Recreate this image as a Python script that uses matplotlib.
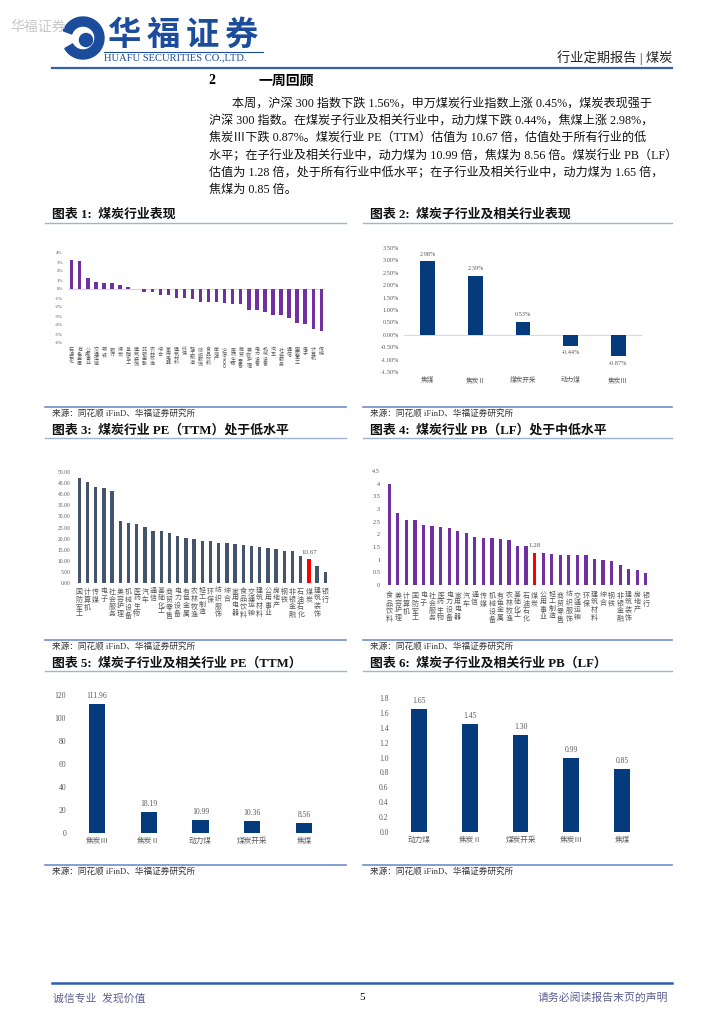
import matplotlib
matplotlib.use("Agg")
import matplotlib.pyplot as plt
import numpy as np
from matplotlib.patches import Wedge, Circle

plt.rcParams['font.family'] = ['Liberation Serif', 'Noto Sans CJK SC', 'DejaVu Sans']

# ---- data ----
names1 = ["石油石化", "有色金属", "公用事业", "交通运输", "钢铁", "银行", "煤炭", "基础化工",
          "建筑装饰", "非银金融", "农林牧渔", "综合", "家用电器", "建筑材料", "环保", "轻工制造",
          "纺织服饰", "食品饮料", "房地产", "沪深300", "医药生物", "商贸零售", "美容护理", "电力设备",
          "机械设备", "汽车", "社会服务", "通信", "国防军工", "电子", "计算机", "传媒"]
chg1 = [3.26, 3.11, 1.26, 0.81, 0.63, 0.63, 0.45, 0.26, 0.02, -0.37, -0.37, -0.70, -0.70, -1.04,
        -1.04, -1.07, -1.48, -1.48, -1.48, -1.56, -1.63, -1.70, -2.30, -2.30, -2.56, -2.85, -2.85,
        -3.26, -3.78, -3.85, -4.48, -4.63]

names2 = ["焦煤", "焦炭Ⅱ", "煤炭开采", "动力煤", "焦炭Ⅲ"]
chg2 = [2.98, 2.39, 0.53, -0.44, -0.87]

names3 = ["国防军工", "计算机", "传媒", "电子", "社会服务", "美容护理", "机械设备", "医药生物",
          "汽车", "通信", "基础化工", "商贸零售", "电力设备", "有色金属", "农林牧渔", "轻工制造",
          "环保", "纺织服饰", "综合", "家用电器", "食品饮料", "交通运输", "建筑材料", "公用事业",
          "房地产", "钢铁", "非银金融", "石油石化", "煤炭", "建筑装饰", "银行"]
pe3 = [47.1, 45.7, 43.3, 43.0, 41.4, 27.9, 27.1, 26.5, 25.2, 23.5, 23.2, 22.3, 21.1, 20.2, 19.6,
       18.9, 18.9, 18.1, 18.1, 17.4, 16.9, 16.5, 16.0, 15.6, 15.3, 14.5, 14.2, 12.0, 10.67, 7.8, 5.1]

names4 = ["食品饮料", "美容护理", "计算机", "国防军工", "电子", "社会服务", "医药生物", "电力设备",
          "家用电器", "汽车", "通信", "传媒", "机械设备", "有色金属", "农林牧渔", "基础化工",
          "石油石化", "煤炭", "公用事业", "轻工制造", "商贸零售", "纺织服饰", "交通运输", "环保",
          "建筑材料", "综合", "钢铁", "非银金融", "建筑装饰", "房地产", "银行"]
pb4 = [3.97, 2.84, 2.57, 2.57, 2.37, 2.33, 2.30, 2.25, 2.12, 2.07, 1.90, 1.86, 1.86, 1.82, 1.76,
       1.55, 1.55, 1.28, 1.27, 1.23, 1.20, 1.19, 1.19, 1.18, 1.03, 0.97, 0.95, 0.80, 0.65, 0.58, 0.46]

names5 = ["焦炭Ⅲ", "焦炭Ⅱ", "动力煤", "煤炭开采", "焦煤"]
pe5 = [111.96, 18.19, 10.99, 10.36, 8.56]

names6 = ["动力煤", "焦炭Ⅱ", "煤炭开采", "焦炭Ⅲ", "焦煤"]
pb6 = [1.65, 1.45, 1.30, 0.99, 0.85]

para = [
    "本周，沪深 300 指数下跌 1.56%，申万煤炭行业指数上涨 0.45%，煤炭表现强于",
    "沪深 300 指数。在煤炭子行业及相关行业中，动力煤下跌 0.44%，焦煤上涨 2.98%，",
    "焦炭Ⅲ下跌 0.87%。煤炭行业 PE（TTM）估值为 10.67 倍，估值处于所有行业的低",
    "水平；在子行业及相关行业中，动力煤为 10.99 倍，焦煤为 8.56 倍。煤炭行业 PB（LF）",
    "估值为 1.28 倍，处于所有行业中低水平；在子行业及相关行业中，动力煤为 1.65 倍，",
    "焦煤为 0.85 倍。",
]
titles = ["图表 1:  煤炭行业表现", "图表 2:  煤炭子行业及相关行业表现",
          "图表 3:  煤炭行业 PE（TTM）处于低水平", "图表 4:  煤炭行业 PB（LF）处于中低水平",
          "图表 5:  煤炭子行业及相关行业 PE（TTM）", "图表 6:  煤炭子行业及相关行业 PB（LF）"]
source = "来源：同花顺 iFinD、华福证券研究所"

W, H = 724, 1024
PURPLE = '#7030A0'
NAVY = '#053A7C'
SLATE = '#44546A'
GRID = '#D9D9D9'
TXT = '#595959'

fig = plt.figure(figsize=(W / 100, H / 100), dpi=100)
page = fig.add_axes([0, 0, 1, 1])
page.set_xlim(0, W)
page.set_ylim(H, 0)
page.axis('off')


def box(x0, y0, x1, y1):
    return [x0 / W, 1 - y1 / H, (x1 - x0) / W, (y1 - y0) / H]


def vert(s):
    return "\n".join(list(s.replace("300", "３００")))


def clean(ax):
    for sp in ax.spines.values():
        sp.set_visible(False)
    ax.tick_params(length=0, colors=TXT)
    ax.set_facecolor('none')


# ---- header ----
page.text(10, 27, "华福证券", fontsize=10, color='#C8C8C8', va='center', ha='left')
page.add_patch(Wedge((83, 38), 21, 200, 150, width=9, color='#1C4C9C'))
page.add_patch(Circle((86, 40), 6.5, color='#1C4C9C'))
for i, ch in enumerate("华福证券"):
    page.text(124 + i * 39, 36, ch, fontsize=24, fontweight='bold', color='#1C4C9C',
              ha='center', va='center')
page.plot([104, 263], [52, 52], color='#1C4C9C', lw=0.8)
page.text(104, 58, "HUAFU SECURITIES CO.,LTD.", fontsize=7.6, color='#1C4C9C', va='center', ha='left')
page.text(672, 58, "行业定期报告 | 煤炭", fontsize=9.5, ha='right', va='center', color='#222222')
page.plot([52, 672], [68, 68], color='#3562B0', lw=1.6)

page.text(208, 81, "2", fontsize=10, fontweight='bold', va='center')
page.text(258, 81, "一周回顾", fontsize=10, fontweight='bold', va='center')
for i, line in enumerate(para):
    page.text(232 if i == 0 else 209, 105 + i * 17, line, fontsize=8.7, va='center', color='#111111')

# ---- panel frames ----
rows = [(215, 407), (430, 640), (663, 865)]
cols = [(45, 346), (363, 672)]
k = 0
for ty, sy in rows:
    for cx0, cx1 in cols:
        page.text(cx0 + 7, ty, titles[k], fontsize=9.3, fontweight='bold', va='center', color='#111111')
        page.plot([cx0, cx1], [ty + 8, ty + 8], color='#9DB3D9', lw=1.0)
        page.plot([cx0, cx1], [sy, sy], color='#6F8FC8', lw=1.2)
        page.text(cx0 + 7, sy + 7, source, fontsize=6.2, va='center', color='#333333')
        k += 1

# ---- footer ----
page.plot([52, 672], [983, 983], color='#2F5DB6', lw=1.8)
page.text(53, 998, "诚信专业  发现价值", fontsize=7.8, color='#5A5F8E', va='center')
page.text(362, 998, "5", fontsize=8, ha='center', va='center')
page.text(668, 998, "请务必阅读报告末页的声明", fontsize=7.8, color='#5A5F8E', va='center', ha='right')

# ---- chart 1 ----
ax1 = fig.add_axes(box(67.7, 253, 324.5, 343))
x1 = np.arange(len(names1))
ax1.bar(x1, chg1, width=0.42, color=PURPLE)
ax1.axhline(0, color=GRID, lw=0.8, zorder=0)
ax1.set_xlim(-0.5, 31.4)
ax1.set_ylim(-6, 4)
ax1.set_yticks(np.arange(-6, 5))
ax1.set_yticklabels([f"{v}%" for v in range(-6, 5)], fontsize=3.5)
ax1.set_xticks(x1)
ax1.set_xticklabels([vert(n) for n in names1], fontsize=3.6, linespacing=1.05)
clean(ax1)
ax1.tick_params(axis='x', pad=3.5)

# ---- chart 2 ----
ax2 = fig.add_axes(box(404, 248, 642, 372))
x2 = np.arange(len(names2))
b2 = ax2.bar(x2, chg2, width=0.31, color=NAVY)
ax2.bar_label(b2, labels=[f"{v:.2f}%" for v in chg2], fontsize=4.5, padding=3, color=TXT)
ax2.axhline(0, color=GRID, lw=0.8, zorder=0)
ax2.set_xlim(-0.5, 4.5)
ax2.set_ylim(-1.5, 3.5)
yt2 = np.arange(-1.5, 3.51, 0.5)
ax2.set_yticks(yt2)
ax2.set_yticklabels([f"{v:.2f}%" for v in yt2], fontsize=4.5)
ax2.set_xticks(x2)
ax2.set_xticklabels(names2, fontsize=4.8)
clean(ax2)
ax2.tick_params(axis='x', pad=3)

# ---- chart 3 ----
ax3 = fig.add_axes(box(75.2, 472, 336, 583))
x3 = np.arange(len(names3))
c3 = ['#FF0000' if n == "煤炭" else SLATE for n in names3]
b3 = ax3.bar(x3, pe3, width=0.4, color=c3)
ax3.bar_label(b3, labels=[f"{v:.2f}" if n == "煤炭" else "" for n, v in zip(names3, pe3)],
              fontsize=5, padding=3, color=TXT)
ax3.axhline(0, color=GRID, lw=0.8, zorder=0)
ax3.set_xlim(-0.5, 31.3)
ax3.set_ylim(0, 50)
yt3 = np.arange(0, 51, 5)
ax3.set_yticks(yt3)
ax3.set_yticklabels([f"{v:.2f}" for v in yt3], fontsize=4)
ax3.set_xticks(x3)
ax3.set_xticklabels([vert(n) for n in names3], fontsize=5, linespacing=1.15)
clean(ax3)
ax3.tick_params(axis='x', pad=3.5)

# ---- chart 4 ----
ax4 = fig.add_axes(box(385, 471, 653.5, 585))
x4 = np.arange(len(names4))
c4 = ['#FF0000' if n == "煤炭" else PURPLE for n in names4]
b4 = ax4.bar(x4, pb4, width=0.38, color=c4)
ax4.bar_label(b4, labels=[f"{v:.2f}" if n == "煤炭" else "" for n, v in zip(names4, pb4)],
              fontsize=5, padding=3, color=TXT)
ax4.axhline(0, color=GRID, lw=0.8, zorder=0)
ax4.set_xlim(-0.5, 30.9)
ax4.set_ylim(0, 4.5)
yt4 = np.arange(0, 4.51, 0.5)
ax4.set_yticks(yt4)
ax4.set_yticklabels([f"{v:g}" for v in yt4], fontsize=4.5)
ax4.set_xticks(x4)
ax4.set_xticklabels([vert(n) for n in names4], fontsize=5, linespacing=1.15)
clean(ax4)
ax4.tick_params(axis='x', pad=5)

# ---- chart 5 ----
ax5 = fig.add_axes(box(71, 695, 330, 833))
x5 = np.arange(len(names5))
b5 = ax5.bar(x5, pe5, width=0.31, color=NAVY)
ax5.bar_label(b5, labels=[f"{v:.2f}" for v in pe5], fontsize=5.5, padding=3, color=TXT)
ax5.axhline(0, color=GRID, lw=0.8, zorder=0)
ax5.set_xlim(-0.5, 4.5)
ax5.set_ylim(0, 120)
ax5.set_yticks(np.arange(0, 121, 20))
ax5.set_yticklabels([str(v) for v in range(0, 121, 20)], fontsize=5.5)
ax5.set_xticks(x5)
ax5.set_xticklabels(names5, fontsize=5.5)
clean(ax5)
ax5.tick_params(axis='x', pad=3)

# ---- chart 6 ----
ax6 = fig.add_axes(box(393.6, 698, 647.4, 832))
x6 = np.arange(len(names6))
b6 = ax6.bar(x6, pb6, width=0.31, color=NAVY)
ax6.bar_label(b6, labels=[f"{v:.2f}" for v in pb6], fontsize=5.5, padding=3, color=TXT)
ax6.axhline(0, color=GRID, lw=0.8, zorder=0)
ax6.set_xlim(-0.5, 4.5)
ax6.set_ylim(0, 1.8)
yt6 = np.arange(0, 1.81, 0.2)
ax6.set_yticks(yt6)
ax6.set_yticklabels([f"{v:.1f}" for v in yt6], fontsize=5.5)
ax6.set_xticks(x6)
ax6.set_xticklabels(names6, fontsize=5.5)
clean(ax6)
ax6.tick_params(axis='x', pad=3)

fig.savefig("out.png", dpi=100)
